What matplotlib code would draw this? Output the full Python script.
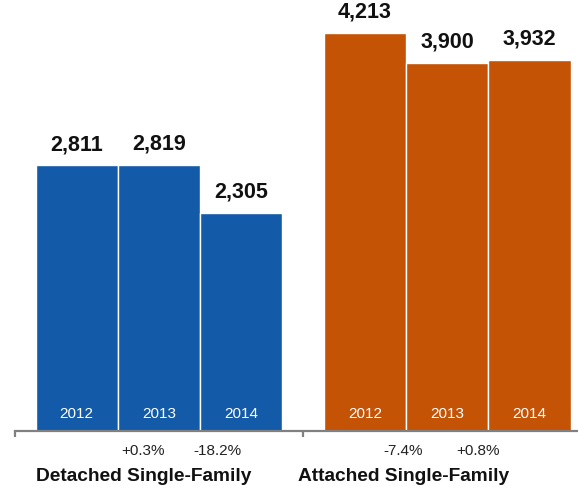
import matplotlib
matplotlib.use("Agg")
import matplotlib.pyplot as plt

plt.rcParams['font.family'] = ['Liberation Sans', 'DejaVu Sans']

# sales by year for each home type
years = ['2012', '2013', '2014']
groups = ['Detached Single-Family', 'Attached Single-Family']
detached = [2811, 2819, 2305]
attached = [4213, 3900, 3932]
detached_chg = ['', '+0.3%', '-18.2%']
attached_chg = ['', '-7.4%', '+0.8%']

colors = ['#135aa8', '#c55306']

fig = plt.figure(figsize=(5.78, 4.9), dpi=100)
ax = fig.add_axes([15 / 578, 59 / 490, 563 / 578, 431 / 490])

starts = [0, 3.5]
series = [detached, attached]
changes = [detached_chg, attached_chg]
# where the change labels and group titles sit (x offset from group start)
chg_x = [[None, 0.80, 1.71], [None, 0.46, 1.38]]
title_x = [0.81, 0.47]

for g, (vals, col, chg) in enumerate(zip(series, colors, changes)):
    xs = [starts[g] + i for i in range(len(vals))]
    ax.bar(xs, vals, width=1.0, color=col, edgecolor='white', linewidth=1.0)
    for x, v, yr in zip(xs, vals, years):
        ax.annotate(f'{v:,}', xy=(x, v), xytext=(0, 11), textcoords='offset points',
                    ha='center', va='baseline', fontsize=15.5, fontweight='bold',
                    color='#111111')
        ax.annotate(yr, xy=(x, 0), xytext=(0, 12), textcoords='offset points',
                    ha='center', va='center', fontsize=11, color='white')
    for i, c in enumerate(chg):
        if c:
            ax.annotate(c, xy=(starts[g] + chg_x[g][i], 0), xytext=(0, -14.5),
                        textcoords='offset points', ha='center', va='center',
                        fontsize=11, color='#222222', annotation_clip=False)
    ax.annotate(groups[g], xy=(starts[g] + title_x[g], 0), xytext=(0, -33),
                textcoords='offset points', ha='center', va='center',
                fontsize=13.8, fontweight='bold', color='#111111',
                annotation_clip=False)

ax.set_xlim(-0.75, -0.75 + 563 / 82.3)
ax.set_ylim(0, 4562)

for s in ['top', 'right', 'left']:
    ax.spines[s].set_visible(False)
ax.spines['bottom'].set_color('#808080')
ax.spines['bottom'].set_linewidth(1.6)
ax.set_yticks([])
ax.set_xticks([-0.75, 2.75])
ax.set_xticklabels([])
ax.tick_params(axis='x', direction='out', length=4.5, width=1.6, color='#808080')

fig.savefig('out.png', dpi=100)
